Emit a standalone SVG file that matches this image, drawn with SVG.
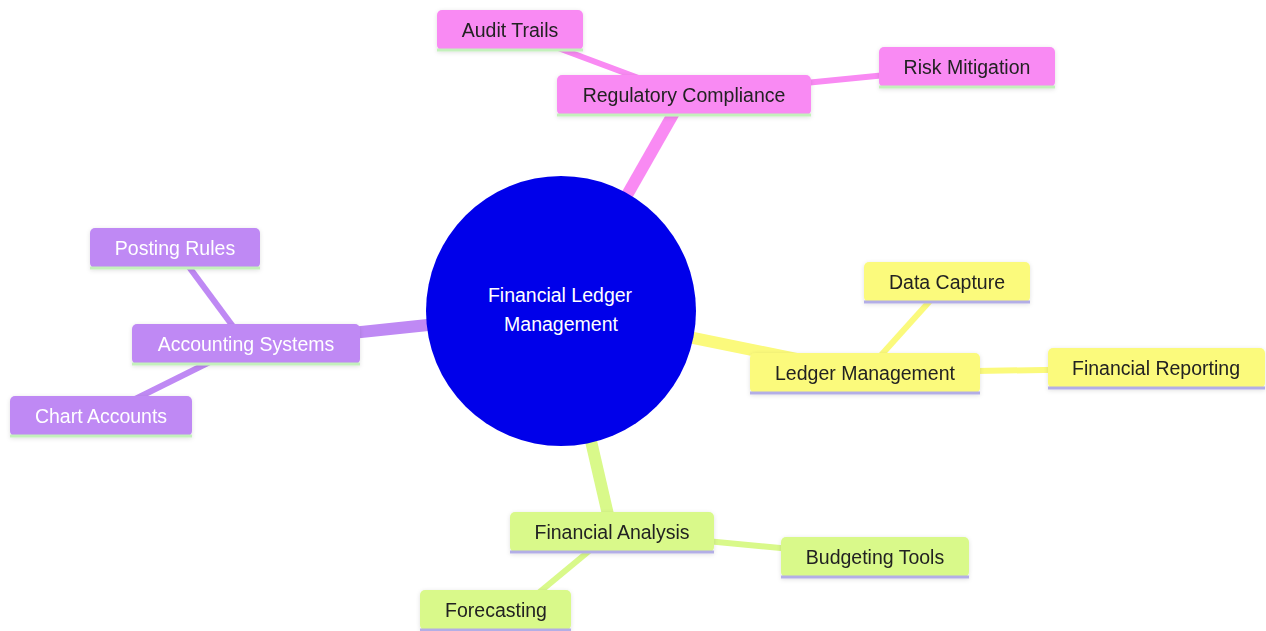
<svg xmlns="http://www.w3.org/2000/svg" width="1266" height="631" viewBox="0 0 1266 631">
<style>
text{font-family:"Liberation Sans",Arial,sans-serif;font-size:19.5px;text-anchor:middle;dominant-baseline:central}
.pink rect.b{fill:#f98af3}
.purple rect.b{fill:#bf89f4}
.yellow rect.b{fill:#fbfa7c}
.green rect.b{fill:#d9f98a}
.pink text,.yellow text,.green text{fill:#222}
.purple text{fill:#fff}
.pink line.u,.purple line.u{stroke:#c4f0bc;stroke-width:3}
.yellow line.u,.green line.u{stroke:#b3aee6;stroke-width:3}
.e1{stroke-width:12;stroke-linecap:butt;fill:none}
.e2{stroke-width:6;stroke-linecap:butt;fill:none}
.cp{stroke:#f98af3}.cu{stroke:#bf89f4}.cy{stroke:#fbfa7c}.cg{stroke:#d9f98a}
</style>
<defs>
<filter id="sh" x="-10%" y="-20%" width="120%" height="150%">
<feDropShadow dx="0" dy="1" stdDeviation="2" flood-color="#000" flood-opacity="0.12"/>
</filter>
</defs>
<rect width="1266" height="631" fill="#fff"/>
<g id="connectors">
<line class="e1 cp" x1="561" y1="311" x2="684" y2="95"/>
<line class="e2 cp" x1="510" y1="30" x2="684" y2="95"/>
<line class="e2 cp" x1="684" y1="95" x2="967" y2="67"/>
<line class="e1 cu" x1="561" y1="311" x2="246" y2="344"/>
<line class="e2 cu" x1="175" y1="248" x2="246" y2="344"/>
<line class="e2 cu" x1="101" y1="416" x2="246" y2="344"/>
<line class="e1 cy" x1="561" y1="311" x2="865" y2="373"/>
<line class="e2 cy" x1="947" y1="282" x2="865" y2="373"/>
<line class="e2 cy" x1="865" y1="373" x2="1156" y2="368"/>
<line class="e1 cg" x1="561" y1="311" x2="612" y2="532"/>
<line class="e2 cg" x1="612" y1="532" x2="875" y2="557"/>
<line class="e2 cg" x1="612" y1="532" x2="530" y2="600"/>
</g>
<g id="root">
<circle cx="561" cy="311" r="135" fill="#0000ea"/>
<text x="560" y="295" fill="#fff">Financial Ledger</text>
<text x="561" y="324" fill="#fff">Management</text>
</g>
<g id="regulatory-compliance" class="pink" filter="url(#sh)">
<rect class="b" x="557" y="75" width="254" height="40" rx="5"/>
<line class="u" x1="557" y1="115" x2="811" y2="115"/>
<text x="684" y="95">Regulatory Compliance</text>
</g>
<g id="audit-trails" class="pink" filter="url(#sh)">
<rect class="b" x="437" y="10" width="146" height="40" rx="5"/>
<line class="u" x1="437" y1="50" x2="583" y2="50"/>
<text x="510" y="30">Audit Trails</text>
</g>
<g id="risk-mitigation" class="pink" filter="url(#sh)">
<rect class="b" x="879" y="47" width="176" height="40" rx="5"/>
<line class="u" x1="879" y1="87" x2="1055" y2="87"/>
<text x="967" y="67">Risk Mitigation</text>
</g>
<g id="accounting-systems" class="purple" filter="url(#sh)">
<rect class="b" x="132" y="324" width="228" height="40" rx="5"/>
<line class="u" x1="132" y1="364" x2="360" y2="364"/>
<text x="246" y="344">Accounting Systems</text>
</g>
<g id="posting-rules" class="purple" filter="url(#sh)">
<rect class="b" x="90" y="228" width="170" height="40" rx="5"/>
<line class="u" x1="90" y1="268" x2="260" y2="268"/>
<text x="175" y="248">Posting Rules</text>
</g>
<g id="chart-accounts" class="purple" filter="url(#sh)">
<rect class="b" x="10" y="396" width="182" height="40" rx="5"/>
<line class="u" x1="10" y1="436" x2="192" y2="436"/>
<text x="101" y="416">Chart Accounts</text>
</g>
<g id="ledger-management" class="yellow" filter="url(#sh)">
<rect class="b" x="750" y="353" width="230" height="40" rx="5"/>
<line class="u" x1="750" y1="393" x2="980" y2="393"/>
<text x="865" y="373">Ledger Management</text>
</g>
<g id="data-capture" class="yellow" filter="url(#sh)">
<rect class="b" x="864" y="262" width="166" height="40" rx="5"/>
<line class="u" x1="864" y1="302" x2="1030" y2="302"/>
<text x="947" y="282">Data Capture</text>
</g>
<g id="financial-reporting" class="yellow" filter="url(#sh)">
<rect class="b" x="1048" y="348" width="217" height="40" rx="5"/>
<line class="u" x1="1048" y1="388" x2="1265" y2="388"/>
<text x="1156" y="368">Financial Reporting</text>
</g>
<g id="financial-analysis" class="green" filter="url(#sh)">
<rect class="b" x="510" y="512" width="204" height="40" rx="5"/>
<line class="u" x1="510" y1="552" x2="714" y2="552"/>
<text x="612" y="532">Financial Analysis</text>
</g>
<g id="budgeting-tools" class="green" filter="url(#sh)">
<rect class="b" x="781" y="537" width="188" height="40" rx="5"/>
<line class="u" x1="781" y1="577" x2="969" y2="577"/>
<text x="875" y="557">Budgeting Tools</text>
</g>
<g id="forecasting" class="green" filter="url(#sh)">
<rect class="b" x="420" y="590" width="151" height="40" rx="5"/>
<line class="u" x1="420" y1="630" x2="571" y2="630"/>
<text x="496" y="610">Forecasting</text>
</g>
</svg>
